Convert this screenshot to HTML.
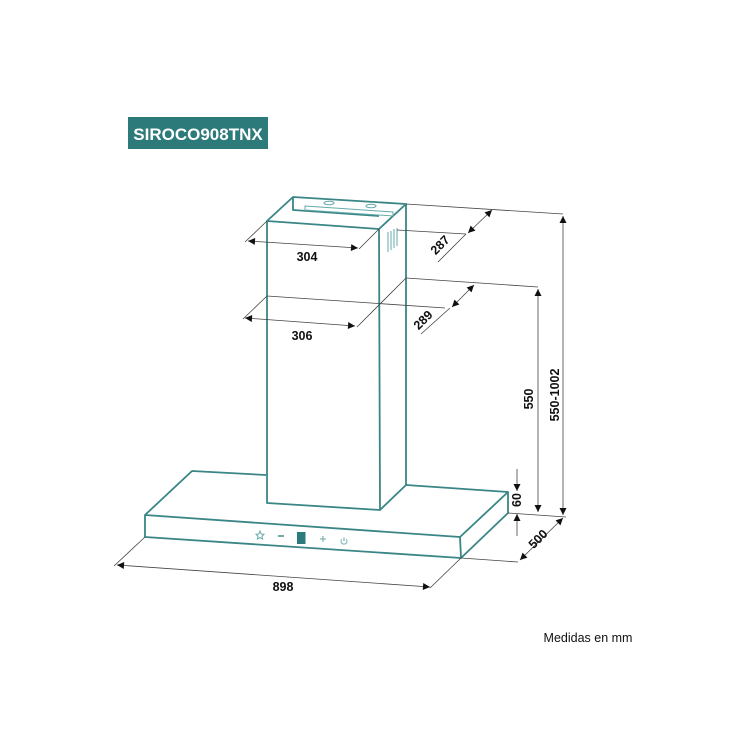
<!DOCTYPE html>
<html><head><meta charset="utf-8"><style>
html,body{margin:0;padding:0;background:#fff;}
svg{display:block;}
text{font-family:"Liberation Sans",sans-serif;}
</style></head><body>
<svg width="740" height="740" viewBox="0 0 740 740" xmlns="http://www.w3.org/2000/svg">
<defs>
<marker id="a" viewBox="0 0 10 10" refX="10" refY="5" markerWidth="9" markerHeight="7" orient="auto-start-reverse" markerUnits="userSpaceOnUse"><path d="M0,0 L10,5 L0,10 z" fill="#111"/></marker>
</defs>
<rect x="128" y="117" width="140" height="32" fill="#2d7a7b"/>
<text x="198" y="140" font-size="17" font-weight="bold" fill="#fff" text-anchor="middle">SIROCO908TNX</text>

<g stroke="#3a8585" stroke-width="1.8" fill="none" stroke-linejoin="round">
<!-- chimney -->
<path d="M293,197 L406,204 L379,229 L267,221 Z"/>
<path d="M293,197 L293,210 L379,216"/>
<path d="M267,221 L267,503 L380,510 L406,485 L406,204"/>
<path d="M379,229 L380,510"/>
<!-- canopy -->
<path d="M266,475 L192,471 L145,515 L460,537 L508,492 L406,485"/>
<path d="M145,515 L145,537 L461,558 L508,513 L508,492"/>
<path d="M460,537 L461,558"/>
</g>
<g stroke="#6aa" stroke-width="1" fill="none">
<path d="M305,206 L393,212 L393,216 L305,210 Z"/>
<ellipse cx="329" cy="203" rx="5" ry="1.8"/>
<ellipse cx="371" cy="206" rx="5" ry="1.8"/>
<path d="M388,232 V252 M391,231 V250 M394,229 V248 M397,228 V246"/>
</g>

<g stroke="#444" stroke-width="0.8" fill="none">
<!-- 304 -->
<line x1="267" y1="221" x2="245" y2="242"/>
<line x1="379" y1="229" x2="359" y2="249"/>
<line x1="248" y1="241" x2="358" y2="248" marker-start="url(#a)" marker-end="url(#a)"/>
<!-- 306 -->
<line x1="267" y1="296" x2="445" y2="308"/>
<line x1="267" y1="296" x2="243" y2="319"/>
<line x1="406" y1="278" x2="357" y2="327"/>
<line x1="245" y1="318" x2="355" y2="326" marker-start="url(#a)" marker-end="url(#a)"/>
<!-- 287 -->
<line x1="406" y1="204" x2="563" y2="214"/>
<line x1="397" y1="230" x2="466" y2="234"/>
<line x1="466" y1="234" x2="438" y2="262"/>
<line x1="468" y1="233" x2="492" y2="210" marker-start="url(#a)" marker-end="url(#a)"/>
<!-- 289 -->
<line x1="406" y1="278" x2="538" y2="287"/>
<line x1="450" y1="308" x2="421" y2="334"/>
<line x1="452" y1="307" x2="474" y2="285" marker-start="url(#a)" marker-end="url(#a)"/>
<!-- 550 -->
<line x1="538" y1="289" x2="538" y2="512" marker-start="url(#a)" marker-end="url(#a)"/>
<line x1="563" y1="216" x2="563" y2="515" marker-start="url(#a)" marker-end="url(#a)"/>
<line x1="508" y1="513" x2="566" y2="517"/>
<!-- 60 -->
<line x1="517" y1="469" x2="517" y2="491" marker-end="url(#a)"/>
<line x1="517" y1="536" x2="517" y2="514" marker-end="url(#a)"/>
<!-- 500 -->
<line x1="461" y1="558" x2="518" y2="562"/>
<line x1="520" y1="560" x2="563" y2="518" marker-start="url(#a)" marker-end="url(#a)"/>
<!-- 898 -->
<line x1="145" y1="537" x2="114" y2="566"/>
<line x1="461" y1="558" x2="430" y2="588"/>
<line x1="117" y1="565" x2="430" y2="587" marker-start="url(#a)" marker-end="url(#a)"/>
</g>

<g font-size="12.5" font-weight="bold" fill="#111" text-anchor="middle">
<text x="307" y="261">304</text>
<text x="302" y="340">306</text>
<text x="283" y="591">898</text>
<text transform="translate(443,248) rotate(-45)">287</text>
<text transform="translate(426,323) rotate(-45)">289</text>
<text transform="translate(533,399) rotate(-90)">550</text>
<text transform="translate(559,395) rotate(-90)">550-1002</text>
<text transform="translate(521,500) rotate(-90)">60</text>
<text transform="translate(541,542) rotate(-45)">500</text>
</g>

<g fill="none" stroke="#6aa" stroke-width="1">
<path d="M260,531 L261.2,534 L264,534.3 L262,536.2 L262.6,539 L260,537.6 L257.4,539 L258,536.2 L256,534.3 L258.8,534 Z"/>
<line x1="278" y1="536" x2="284" y2="536" stroke="#3a8585" stroke-width="1.4"/>
<line x1="320" y1="539" x2="326" y2="539"/>
<line x1="323" y1="536" x2="323" y2="542"/>
<path d="M341.6,539.3 A3,3 0 1 0 346.4,539.3"/>
<line x1="344" y1="537.5" x2="344" y2="541"/>
</g>
<rect x="297" y="532" width="8.5" height="12" fill="#2d7a7b"/>

<text x="588" y="642" font-size="12.5" fill="#111" text-anchor="middle">Medidas en mm</text>
</svg>
</body></html>
